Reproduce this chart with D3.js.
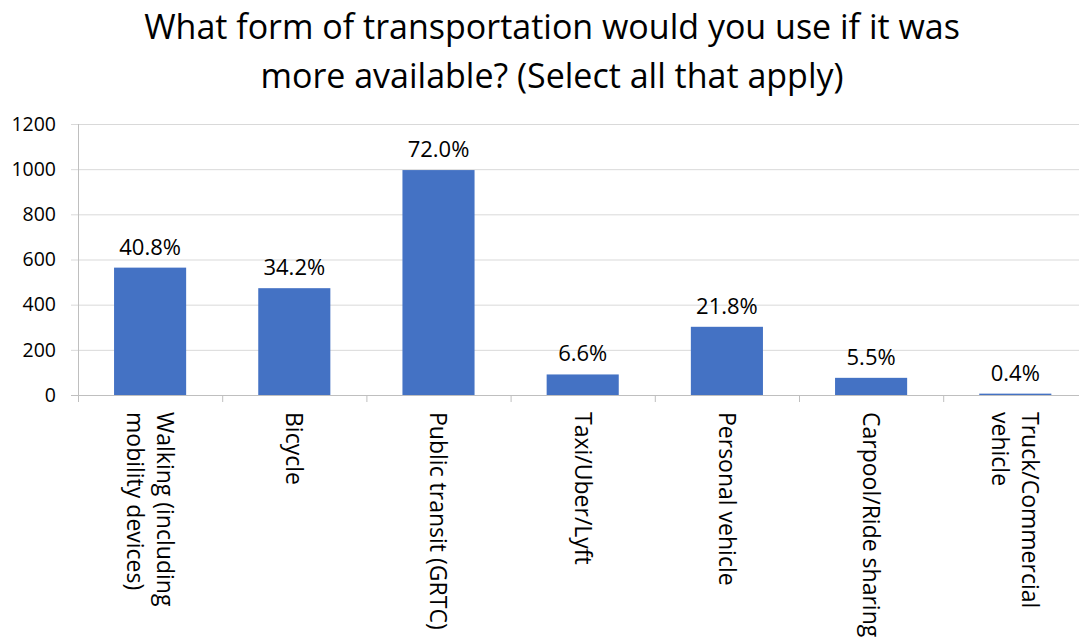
<!DOCTYPE html>
<html>
<head>
<meta charset="utf-8">
<script src="https://cdn.jsdelivr.net/npm/d3@7"></script>
<style>
  body { margin: 0; background: #fff; }
  svg { font-family: "Open Sans", "Noto Sans", sans-serif; }
</style>
</head>
<body>
<div id="chart"></div>
<script>
const titleLines = ["What form of transportation would you use if it was", "more available? (Select all that apply)"];
const categories = [
    ["Walking (including", "mobility devices)"],
    ["Bicycle"],
    ["Public transit (GRTC)"],
    ["Taxi/Uber/Lyft"],
    ["Personal vehicle"],
    ["Carpool/Ride sharing"],
    ["Truck/Commercial", "vehicle"]
];
const counts = [564, 473, 996, 91, 302, 76, 6];
const percentLabels = ["40.8%", "34.2%", "72.0%", "6.6%", "21.8%", "5.5%", "0.4%"];
const yTicks = [0, 200, 400, 600, 800, 1000, 1200];

const width = 1079;
const height = 639;
const margin = { top: 124, left: 78, bottom: 395 };
const plotRight = 78 + 7 * 144.2;

const svg = d3.select("#chart")
    .append("svg")
    .attr("width", width)
    .attr("height", height);

const ids = categories.map((c, i) => i);

const x = d3.scaleBand()
    .domain(ids)
    .range([margin.left, plotRight])
    .padding(0);

const xBar = d3.scaleBand()
    .domain(ids)
    .range([margin.left, plotRight])
    .paddingInner(0.5)
    .paddingOuter(0.25);

const y = d3.scaleLinear()
    .domain([0, 1200])
    .range([margin.bottom, margin.top]);

// title
svg.append("g")
    .selectAll("text")
    .data(titleLines)
    .enter().append("text")
    .attr("x", 552)
    .attr("y", (d, i) => 39 + i * 49)
    .attr("text-anchor", "middle")
    .style("font-size", "34px")
    .attr("fill", "#000")
    .text(d => d);

// gridlines
svg.append("g")
    .selectAll("line")
    .data(yTicks)
    .enter().append("line")
    .attr("x1", margin.left - 7)
    .attr("x2", width)
    .attr("y1", d => y(d) + 0.5)
    .attr("y2", d => y(d) + 0.5)
    .attr("stroke", d => d === 0 ? "#bfbfbf" : "#d9d9d9")
    .attr("stroke-width", 1);

// y axis line
svg.append("line")
    .attr("x1", margin.left + 0.5)
    .attr("x2", margin.left + 0.5)
    .attr("y1", margin.top)
    .attr("y2", margin.bottom + 7)
    .attr("stroke", "#bfbfbf");

// y tick labels
svg.append("g")
    .selectAll("text")
    .data(yTicks)
    .enter().append("text")
    .attr("x", 56)
    .attr("y", d => y(d))
    .attr("dy", "0.35em")
    .attr("text-anchor", "end")
    .style("font-size", "19.5px")
    .attr("fill", "#000")
    .text(d => d);

// category ticks
svg.append("g")
    .selectAll("line")
    .data(ids.concat([7]))
    .enter().append("line")
    .attr("x1", d => (d < 7 ? x(d) : plotRight) + 0.5)
    .attr("x2", d => (d < 7 ? x(d) : plotRight) + 0.5)
    .attr("y1", margin.bottom)
    .attr("y2", margin.bottom + 7)
    .attr("stroke", "#bfbfbf");

// bars
svg.append("g")
    .selectAll("rect")
    .data(counts)
    .enter().append("rect")
    .attr("x", (d, i) => xBar(i))
    .attr("width", xBar.bandwidth())
    .attr("y", d => y(d))
    .attr("height", d => y(0) - y(d))
    .attr("fill", "#4472c4");

// data labels
svg.append("g")
    .selectAll("text")
    .data(counts)
    .enter().append("text")
    .attr("x", (d, i) => x(i) + x.bandwidth() / 2)
    .attr("y", d => y(d) - 13)
    .attr("text-anchor", "middle")
    .style("font-size", "22px")
    .attr("fill", "#000")
    .text((d, i) => percentLabels[i]);

// category labels, rotated 90deg
const catG = svg.append("g")
    .selectAll("g")
    .data(categories)
    .enter().append("g")
    .attr("transform", (d, i) => `translate(${x(i) + x.bandwidth() / 2},412) rotate(90)`);

catG.selectAll("text")
    .data(d => d.map((line, k) => ({ line, k, n: d.length })))
    .enter().append("text")
    .attr("x", 0)
    .attr("y", d => (d.k - (d.n - 1) / 2) * 30)
    .attr("dy", "0.35em")
    .attr("text-anchor", "start")
    .style("font-size", "23px")
    .attr("fill", "#000")
    .text(d => d.line);
</script>
</body>
</html>
